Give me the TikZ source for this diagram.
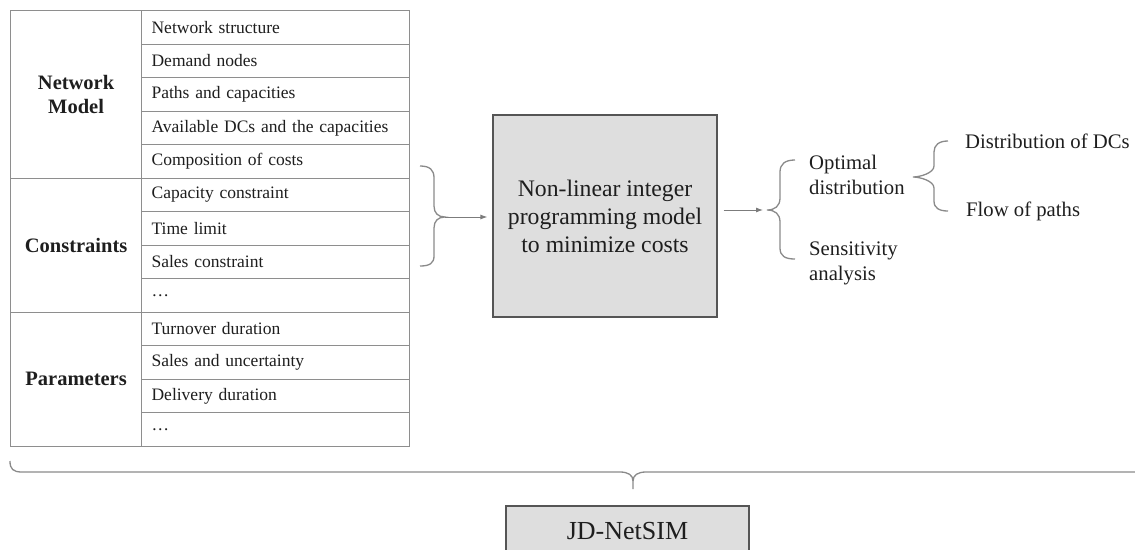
\documentclass[tikz,border=0pt]{standalone}
\usepackage{fontspec}
\setmainfont{Liberation Serif}
\usetikzlibrary{arrows.meta}
\definecolor{gridgray}{HTML}{8E8E8E}
\definecolor{bracegray}{HTML}{8A8A8A}
\definecolor{boxedge}{HTML}{555555}
\definecolor{boxfill}{HTML}{DEDEDE}
\definecolor{txt}{HTML}{1E1E1E}
\begin{document}
\begin{tikzpicture}[x=1pt,y=-1pt,
  every node/.style={text=txt},
  cell/.style={draw=gridgray, line width=1.2pt, anchor=north west, inner xsep=10pt, inner ysep=0pt,
    text width=248pt, minimum height=33.5pt, align=left, font=\fontsize{17.5}{20}\selectfont},
  grp/.style={draw=gridgray, line width=1.2pt, anchor=north west, inner sep=0pt,
    minimum width=131pt, align=center, font=\fontsize{20.5}{24}\selectfont\bfseries},
  bigbox/.style={draw=boxedge, line width=1.2pt, fill=boxfill, inner sep=0pt, align=center},
  brc/.style={draw=bracegray, line width=1.3pt},
  arr/.style={draw=bracegray!90!black, line width=0.9pt, -{Latex[length=7pt,width=5pt]}},
  outtxt/.style={anchor=west, inner sep=0pt, align=left, font=\fontsize{20.7}{25}\selectfont}
]
\useasboundingbox (0,0) rectangle (1135,549);

% table rows
\node[cell] (r1) at (141,10) {Network structure};
\node[cell] (r2) at (141,43.5) {Demand nodes};
\node[cell] (r3) at (141,77) {Paths and capacities};
\node[cell] (r4) at (141,110.5) {Available DCs and the capacities};
\node[cell] (r5) at (141,144) {Composition of costs};
\node[cell] (r6) at (141,177.5) {Capacity constraint};
\node[cell] (r7) at (141,211) {Time limit};
\node[cell] (r8) at (141,244.5) {Sales constraint};
\node[cell] (r9) at (141,278) {…};
\node[cell] (r10) at (141,311.5) {Turnover duration};
\node[cell] (r11) at (141,345) {Sales and uncertainty};
\node[cell] (r12) at (141,378.5) {Delivery duration};
\node[cell] (r13) at (141,412) {…};

% group labels
\node[grp, minimum height=167.5pt] (g1) at (10,10) {Network\\Model};
\node[grp, minimum height=134pt] (g2) at (10,177.5) {Constraints};
\node[grp, minimum height=134pt] (g3) at (10,311.5) {Parameters};

% main model box
\node[bigbox, minimum width=224pt, minimum height=202pt, font=\fontsize{23.7}{28}\selectfont] (model) at (605,216)
  {Non-linear integer\\programming model\\to minimize costs};

% left brace
\coordinate (lbtip) at (445,217);
\draw[brc] (420,166) .. controls (430,166) and (434,170) .. (434,178) -- (434,206)
  .. controls (434,213) and (438,217) .. (lbtip)
  .. controls (438,217) and (434,221) .. (434,228) -- (434,256)
  .. controls (434,263) and (430,266) .. (420,266);
\draw[arr, shorten >=5pt] (lbtip) -- (model.west |- lbtip);

% right brace 1
\coordinate (rbtip) at (767,210);
\draw[arr, shorten <=6pt, shorten >=4pt] (model.east |- rbtip) -- (rbtip);
\draw[brc] (795,160) .. controls (785,160) and (780,164) .. (780,172) -- (780,198)
  .. controls (780,206) and (775,210) .. (rbtip)
  .. controls (775,210) and (780,214) .. (780,222) -- (780,248)
  .. controls (780,256) and (785,259) .. (795,259);

\node[outtxt] (opt) at (809,175) {Optimal\\distribution};
\node[outtxt] (sens) at (809,263) {Sensitivity\\analysis};

% right brace 2
\coordinate (r2tip) at (913,177);
\draw[brc] (948,141) .. controls (939,141) and (934,145) .. (934,152) -- (934,166)
  .. controls (934,173) and (920,177) .. (r2tip)
  .. controls (920,177) and (934,181) .. (934,188) -- (934,201)
  .. controls (934,208) and (939,211) .. (948,211);

\node[outtxt] (dist) at (965,141) {Distribution of DCs};
\node[outtxt] (flow) at (966,211) {Flow of paths};

% bottom brace
\coordinate (bbtip) at (633,489);
\draw[brc] (10,461) .. controls (10,469) and (13,472) .. (22,472) -- (620,472)
  .. controls (628,472) and (633,475) .. (633,481) -- (bbtip);
\draw[brc] (633,481) .. controls (633,475) and (638,472) .. (646,472) -- (1140,472);

% JD-NetSIM box
\node[bigbox, minimum width=243pt, minimum height=50pt, font=\fontsize{26}{30}\selectfont] (jd) at (627.5,531) {JD-NetSIM};
\end{tikzpicture}
\end{document}
